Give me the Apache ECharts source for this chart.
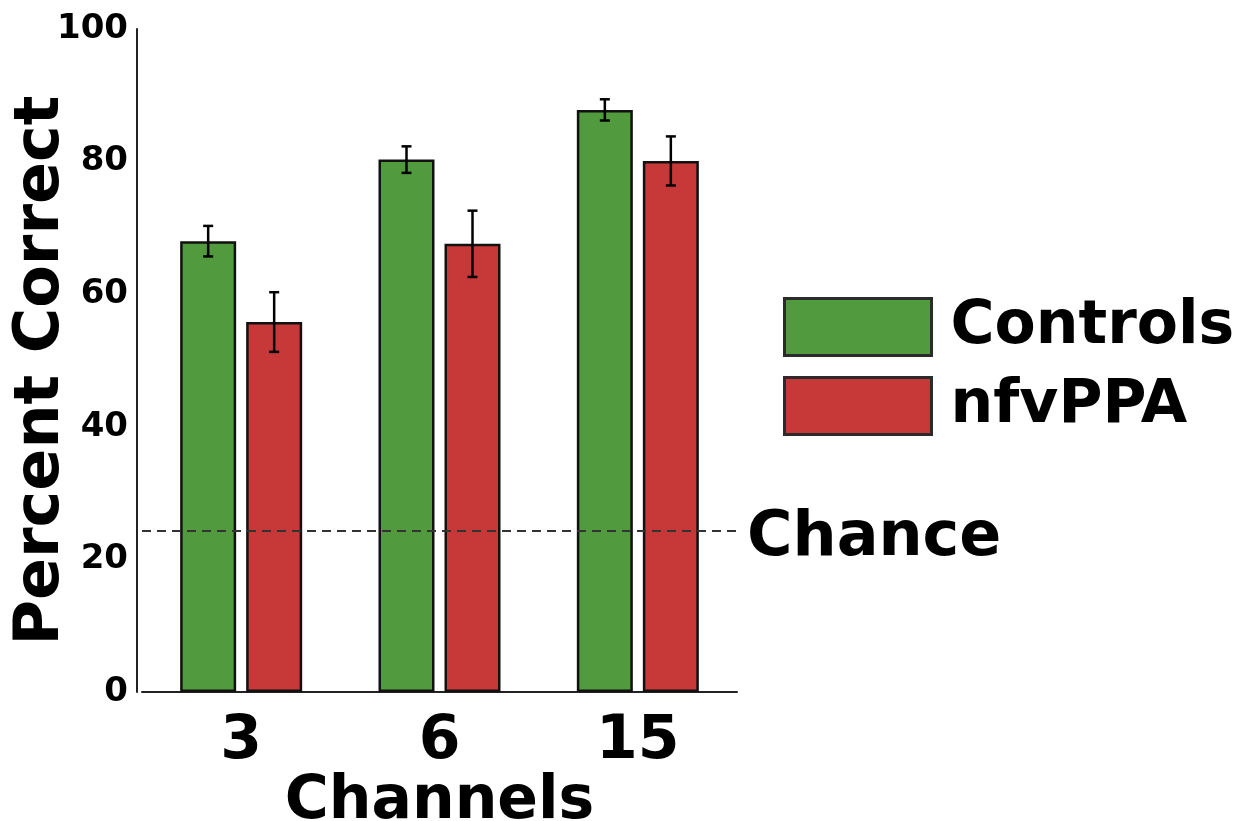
<!DOCTYPE html>
<html>
<head>
<meta charset="utf-8">
<script src="https://cdn.jsdelivr.net/npm/echarts@6/dist/echarts.min.js"></script>
<style>
  html, body { margin: 0; padding: 0; background: #fff; }
  #chart { width: 1237px; height: 821px; }
</style>
</head>
<body>
<div id="chart"></div>
<script>
// data
var channels = ['3', '6', '15']
var controls = [68.0, 80.3, 87.8]
var controlsErr = [2.3, 2.0, 1.6]
var nfvppa = [55.8, 67.6, 80.1]
var nfvppaErr = [4.5, 5.0, 3.7]
var chance = 24.3
var yTicks = [0, 20, 40, 60, 80, 100]

var FONT = 'DejaVu Sans'
var BAR_W = 56
var BAR_GAP = 10

var chart = echarts.init(document.getElementById('chart'))

// error bar series for one group, shifted left/right from category centre
function errorSeries(values, errs, shift) {
  return {
    type: 'custom',
    silent: true,
    z: 5,
    data: values.map(function (v, i) { return [i, v - errs[i], v + errs[i]] }),
    encode: { x: 0, y: [1, 2] },
    renderItem: function (params, api) {
      var lo = api.coord([api.value(0), api.value(1)])
      var hi = api.coord([api.value(0), api.value(2)])
      var x = lo[0] + shift
      var cap = 5
      var style = { stroke: '#000', lineWidth: 2.5 }
      return {
        type: 'group',
        children: [
          { type: 'line', shape: { x1: x, y1: lo[1], x2: x, y2: hi[1] }, style: style },
          { type: 'line', shape: { x1: x - cap, y1: lo[1], x2: x + cap, y2: lo[1] }, style: style },
          { type: 'line', shape: { x1: x - cap, y1: hi[1], x2: x + cap, y2: hi[1] }, style: style }
        ]
      }
    }
  }
}

var offset = (BAR_W + BAR_GAP) / 2

chart.setOption({
  animation: false,
  textStyle: { fontFamily: FONT },
  grid: { left: 142, right: 500, top: 29, bottom: 129, outerBoundsMode: 'none', containLabel: false },
  legend: {
    data: ['Controls', 'nfvPPA'],
    orient: 'vertical',
    left: 778,
    top: 292,
    icon: 'rect',
    itemWidth: 147,
    itemHeight: 57,
    itemGap: 19,
    itemStyle: { borderColor: '#2b2b2b', borderWidth: 3 },
    textStyle: { fontFamily: FONT, fontSize: 60, fontWeight: 'bold', color: '#000', padding: [0, 0, 0, 14] }
  },
  xAxis: {
    type: 'category',
    data: channels,
    name: 'Channels',
    nameLocation: 'middle',
    nameGap: 80,
    nameMoveOverlap: false,
    nameTextStyle: { fontFamily: FONT, fontSize: 60, fontWeight: 'bold', color: '#000' },
    axisLine: { lineStyle: { color: '#222', width: 2 } },
    axisTick: { show: false },
    axisLabel: { fontFamily: FONT, fontSize: 60, fontWeight: 'bold', color: '#000', margin: 20 }
  },
  yAxis: {
    type: 'value',
    min: 0,
    max: 100,
    interval: 20,
    offset: 5,
    name: 'Percent Correct',
    nameLocation: 'middle',
    nameGap: 64,
    nameMoveOverlap: false,
    nameTextStyle: { fontFamily: FONT, fontSize: 62, fontWeight: 'bold', color: '#000', padding: [0, 20, 0, 0] },
    axisLine: { show: true, lineStyle: { color: '#222', width: 2 } },
    axisTick: { show: false },
    splitLine: { show: false },
    axisLabel: {
      fontFamily: FONT, fontSize: 34, fontWeight: 'bold', color: '#000', margin: 9,
      formatter: function (v) { return yTicks.indexOf(v) >= 0 ? String(v) : '' }
    }
  },
  series: [
    {
      name: 'Controls',
      type: 'bar',
      data: controls,
      barWidth: BAR_W,
      barGap: (BAR_GAP / BAR_W * 100) + '%',
      itemStyle: { color: '#519a3d', borderColor: '#111', borderWidth: 2.5 },
      markLine: {
        silent: true,
        symbol: 'none',
        data: [{ yAxis: chance }],
        lineStyle: { color: '#333', width: 2, type: [9, 6] },
        label: {
          show: true,
          position: 'end',
          distance: 10,
          offset: [0, 8],
          formatter: 'Chance',
          fontFamily: FONT, fontSize: 62, fontWeight: 'bold', color: '#000'
        }
      }
    },
    {
      name: 'nfvPPA',
      type: 'bar',
      data: nfvppa,
      barWidth: BAR_W,
      itemStyle: { color: '#c73838', borderColor: '#111', borderWidth: 2.5 }
    },
    errorSeries(controls, controlsErr, -offset),
    errorSeries(nfvppa, nfvppaErr, offset)
  ]
})
</script>
</body>
</html>
